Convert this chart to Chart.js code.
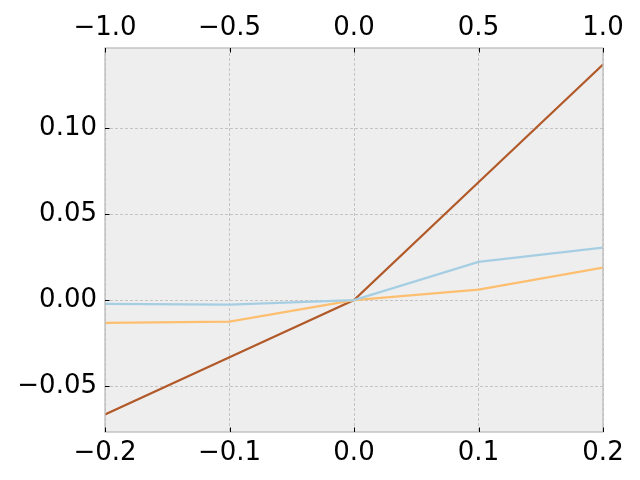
<!DOCTYPE html>
<html>
<head>
<meta charset="utf-8">
<script src="https://cdn.jsdelivr.net/npm/chart.js@4/dist/chart.umd.min.js"></script>
<style>
  html, body { margin: 0; padding: 0; background: #ffffff; }
  #wrap { width: 640px; height: 480px; }
</style>
</head>
<body>
<div id="wrap"><canvas id="chart" width="640" height="480"></canvas></div>
<script>
// données
const xValues = [-0.2, -0.1, 0.0, 0.1, 0.2];
const blueValues = [-0.0022, -0.0026, 0.0, 0.0222, 0.0305];
const orangeValues = [-0.0132, -0.0125, 0.0, 0.0061, 0.0189];
const brownValues = [-0.0665, -0.0333, 0.0, 0.0685, 0.1370];

const bottomTicks = [-0.2, -0.1, 0.0, 0.1, 0.2];
const topTicks = [-1.0, -0.5, 0.0, 0.5, 1.0];
const yTicks = [-0.05, 0.0, 0.05, 0.10];

const FONT = "'DejaVu Sans', sans-serif";

function fmt(v, d) {
    const s = Math.abs(v).toFixed(d);
    return (v < -1e-9 ? '\u2212' : '') + s;
}

function toPoints(ys) {
    return xValues.map((x, i) => ({ x: x, y: ys[i] }));
}

// fond gris, cadre et petites graduations vers l'intérieur
const framePlugin = {
    id: 'frame',
    beforeDraw(chart) {
        const a = chart.chartArea;
        const ctx = chart.ctx;
        ctx.save();
        ctx.fillStyle = '#eeeeee';
        ctx.fillRect(a.left, a.top, a.right - a.left, a.bottom - a.top);
        ctx.restore();
    },
    afterDraw(chart) {
        const a = chart.chartArea;
        const ctx = chart.ctx;
        ctx.save();
        ctx.strokeStyle = '#bcbcbc';
        ctx.lineWidth = 1.3;
        ctx.strokeRect(a.left, a.top, a.right - a.left, a.bottom - a.top);

        ctx.strokeStyle = '#000000';
        ctx.lineWidth = 1;
        const len = 4.5;
        const xb = chart.scales.x;
        bottomTicks.forEach(v => {
            const px = Math.round(xb.getPixelForValue(v)) + 0.5;
            ctx.beginPath();
            ctx.moveTo(px, a.bottom);
            ctx.lineTo(px, a.bottom - len);
            ctx.stroke();
        });
        const xt = chart.scales.x2;
        topTicks.forEach(v => {
            const px = Math.round(xt.getPixelForValue(v)) + 0.5;
            ctx.beginPath();
            ctx.moveTo(px, a.top);
            ctx.lineTo(px, a.top + len);
            ctx.stroke();
        });
        const y = chart.scales.y;
        yTicks.forEach(v => {
            const py = Math.round(y.getPixelForValue(v)) + 0.5;
            ctx.beginPath();
            ctx.moveTo(a.left, py);
            ctx.lineTo(a.left + len, py);
            ctx.stroke();
        });
        ctx.restore();
    }
};

const ctx = document.getElementById('chart').getContext('2d');
const chart = new Chart(ctx, {
    type: 'line',
    data: {
        datasets: [{
            data: toPoints(blueValues),
            borderColor: '#a6cee3',
            borderWidth: 2.2,
            pointRadius: 0,
            tension: 0
        }, {
            data: toPoints(orangeValues),
            borderColor: '#fdbf6f',
            borderWidth: 2.2,
            pointRadius: 0,
            tension: 0
        }, {
            data: toPoints(brownValues),
            borderColor: '#b15928',
            borderWidth: 2.2,
            pointRadius: 0,
            tension: 0
        }]
    },
    options: {
        responsive: false,
        animation: false,
        layout: { padding: { left: 0, right: 37, top: 0, bottom: 0 } },
        plugins: {
            legend: { display: false },
            tooltip: { enabled: false }
        },
        scales: {
            x: {
                type: 'linear',
                position: 'bottom',
                min: -0.2,
                max: 0.2,
                afterBuildTicks: s => { s.ticks = bottomTicks.map(v => ({ value: v })); },
                afterFit: s => { s.height = 48; },
                grid: { color: '#b2b2b2', lineWidth: 0.7, drawTicks: false },
                border: { display: false, dash: [3, 2] },
                ticks: {
                    color: '#000000',
                    font: { family: FONT, size: 26 },
                    padding: 6,
                    maxRotation: 0,
                    callback: v => fmt(v, 1)
                }
            },
            x2: {
                type: 'linear',
                position: 'top',
                min: -1,
                max: 1,
                afterBuildTicks: s => { s.ticks = topTicks.map(v => ({ value: v })); },
                afterFit: s => { s.height = 48; },
                grid: { drawOnChartArea: false, drawTicks: false },
                border: { display: false },
                ticks: {
                    color: '#000000',
                    font: { family: FONT, size: 26 },
                    padding: 4,
                    maxRotation: 0,
                    callback: v => fmt(v, 1)
                }
            },
            y: {
                type: 'linear',
                min: -0.0767,
                max: 0.1466,
                afterBuildTicks: s => { s.ticks = yTicks.map(v => ({ value: v })); },
                afterFit: s => { s.width = 105; },
                grid: { color: '#b2b2b2', lineWidth: 0.7, drawTicks: false },
                border: { display: false, dash: [3, 2] },
                ticks: {
                    color: '#000000',
                    font: { family: FONT, size: 26 },
                    padding: 8,
                    callback: v => fmt(v, 2)
                }
            }
        }
    },
    plugins: [framePlugin]
});
</script>
</body>
</html>
